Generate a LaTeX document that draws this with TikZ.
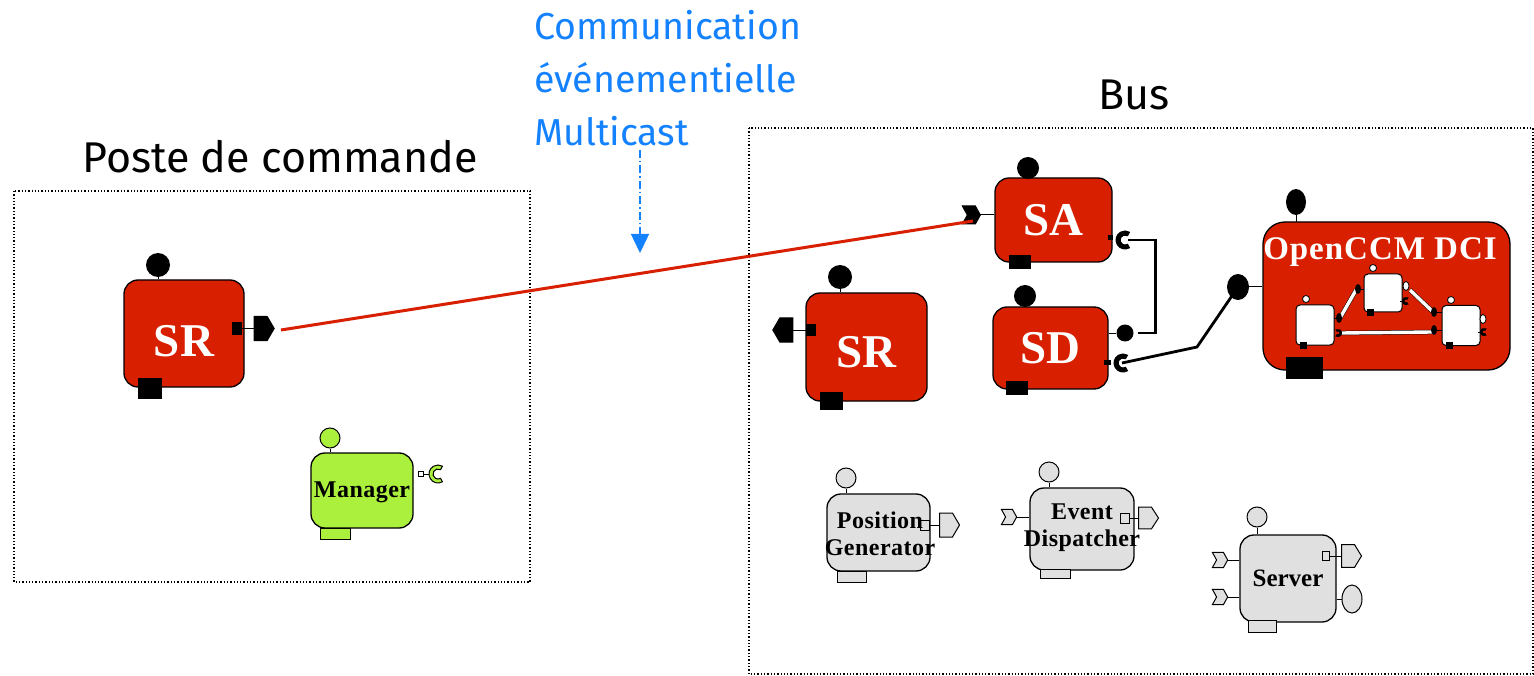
\documentclass[tikz,border=0pt]{standalone}
\usepackage{fontspec}
\setmainfont{Liberation Serif}
\newfontfamily\comicfont{Fira Sans}
\usetikzlibrary{arrows.meta}
\definecolor{cred}{RGB}{216,32,0}
\definecolor{cgray}{RGB}{224,224,224}
\definecolor{cgreen}{RGB}{170,240,60}
\definecolor{cblue}{RGB}{20,130,255}
\tikzset{
  pics/penta/.style={code={\draw[fill=#1, line width=1] (0,-12) -- (13,-12) -- (20,0) -- (13,12) -- (0,12) -- cycle;}},
  pics/chev/.style={code={\draw[fill=#1, line width=1] (0,-9) -- (13,-9) -- (18,0) -- (13,9) -- (0,9) -- (5,0) -- cycle;}},
  pics/cupc/.style={code={\draw[fill=#1, line width=1] (60:9) arc[start angle=60, end angle=300, radius=9] -- (300:5) arc[start angle=300, end angle=60, radius=5] -- cycle;}},
}
\begin{document}
\begin{tikzpicture}[x=1pt,y=-1pt,
  box/.style={draw=black, line width=1.3, rounded corners=14, inner sep=0},
  redbox/.style={box, fill=cred, text=white, font=\bfseries\fontsize{47}{47}\selectfont},
  graybox/.style={box, fill=cgray},
  lbl/.style={font=\bfseries\fontsize{24}{27}\selectfont\addfontfeature{LetterSpace=2}, align=center, inner sep=0},
  dotbox/.style={draw=black, dotted, line width=1.3},
  stem/.style={draw=black, line width=1},
  conn/.style={draw=black, line width=2.8},
  blk/.style={fill=black, inner sep=0},
  ball/.style={circle, fill=black, inner sep=0, minimum size=#1},
  gball/.style={circle, draw=black, line width=1, fill=#1, inner sep=0, minimum size=20},
  sq/.style={draw=black, line width=1, fill=#1, inner sep=0},
  comic/.style={font=\comicfont\fontsize{43}{52}\selectfont, inner sep=0},
  bluecomic/.style={font=\comicfont\fontsize{37.5}{53}\selectfont, inner sep=0, text=cblue},
]
\useasboundingbox (0,0) rectangle (1534,676);

% ---------- frames and titles ----------
\draw[dotbox] (14,191) rectangle (530,582);
\draw[dotbox] (749,128) rectangle (1533,674);
\node[comic] (poste) at (280,157) {Poste de commande};
\node[comic] (bus) at (1134,95) {Bus};
\node[bluecomic, align=left, anchor=north west] (note) at (534,10) {Communication\\événementielle\\Multicast};
\coordinate (arrs) at (640,150);
\coordinate (arre) at (640,253);
\draw[cblue, line width=1.5, dash pattern=on 8pt off 3pt on 1.5pt off 3pt, -{Triangle[width=18pt,length=19pt]}] (arrs) -- (arre);

% ---------- left SR ----------
\node[redbox, minimum width=120, minimum height=107] (srl) at (184,333.5) {\raisebox{-7pt}[\height][0pt]{SR}};
\node[ball=24] (srlt) at (158,265) {};
\draw[stem] (srlt) -- (srlt |- srl.north);
\node[blk, minimum width=24, minimum height=21] (srlb) at (150,388) {};
\node[blk, minimum width=10, minimum height=13] (srlp) at (237,328.5) {};
\draw[stem] (srlp.east) -- ++(12,0) coordinate (srlq);
\pic at (srlq) {penta=black};
\coordinate (evs) at (281,330);

% ---------- Manager ----------
\node[box, fill=cgreen, minimum width=102, minimum height=75] (man) at (362,490.5) {};
\node[lbl] at (362,492) {Manager};
\node[gball=cgreen] (mant) at (330,438) {};
\draw[stem] (mant) -- (mant |- man.north);
\node[sq=cgreen, minimum width=30, minimum height=11] (manb) at (335,533.5) {};
\node[sq=white, minimum size=5] (manp) at (421,474) {};
\draw[stem] (manp.east) -- ++(5,0);
\pic at (438,474) {cupc=cgreen};

% ---------- right SR ----------
\node[redbox, minimum width=121, minimum height=108] (srr) at (866.5,347) {\raisebox{-5pt}[\height][0pt]{SR}};
\node[ball=24] (srrt) at (840,277) {};
\draw[stem] (srrt) -- (srrt |- srr.north);
\node[blk, minimum width=23, minimum height=18] (srrb) at (831.5,401) {};
\node[blk, minimum width=10, minimum height=12] (srrp) at (811,330) {};
\draw[stem] (srrp.west) -- ++(-13,0) coordinate (srrq);
\pic[xscale=-1] at (srrq) {penta=black};

% ---------- SA ----------
\node[redbox, minimum width=117, minimum height=84] (sa) at (1053.5,220) {SA};
\node[ball=22] (sat) at (1028,168) {};
\draw[stem] (sat) -- (sat |- sa.north);
\node[blk, minimum width=22, minimum height=14] (sab) at (1020,262) {};
\draw[stem] (sa.west |- 0,215) -- ++(-14,0) coordinate (sachev);
\pic at ([xshift=-18]sachev) {chev=black};
\coordinate (evt) at (973,221);
\node[sq=black, minimum size=4] (sap) at (1110,238) {};
\coordinate (sacup) at (1125,240);
\pic at (sacup) {cupc=black};

% ---------- SD ----------
\node[redbox, minimum width=115, minimum height=82] (sd) at (1050.5,348) {SD};
\node[ball=22] (sdt) at (1025,296) {};
\draw[stem] (sdt) -- (sdt |- sd.north);
\node[blk, minimum width=22, minimum height=14] (sdb) at (1017,388) {};
\node[ball=17] (sdc) at (1125,333) {};
\draw[stem] (sd.east |- sdc) -- (sdc);
\node[blk, minimum width=7, minimum height=5] (sdp) at (1107,362) {};
\coordinate (sdcup) at (1123,363);
\pic at (sdcup) {cupc=black};

% ---------- OpenCCM DCI ----------
\node[box, fill=cred, rounded corners=22, minimum width=247, minimum height=148] (dci) at (1386.5,296) {};
\node[font=\bfseries\fontsize{33}{33}\selectfont\addfontfeature{LetterSpace=3}, text=white, inner sep=0] at (1380,252) {OpenCCM DCI};
\fill (1296,202) ellipse (10 and 13);
\draw[stem] (1296,210) -- (1296,222);
\node[blk, minimum width=37, minimum height=22] (dcib) at (1304.5,368) {};
\fill (1238,287) ellipse (11 and 13);
\coordinate (dcic) at (1238,287);
\draw[stem] (dcic) -- (dci.west |- dcic);
% inner components
\tikzset{inner/.style={draw=black, line width=1, fill=white, rounded corners=4, inner sep=0, minimum width=38, minimum height=40}}
\node[inner] (ia) at (1315,325) {};
\node[inner, minimum height=38] (ib) at (1383,293) {};
\node[inner, minimum width=38] (ic) at (1461,325.5) {};
\foreach \p in {(1306,299),(1373,268),(1451,300)} \draw[fill=white, line width=0.8] \p circle (3.5);
\foreach \p in {(1303,345),(1370,313),(1449,345)} \fill[black] \p +(-3.5,-3.5) rectangle +(3.5,3.5);
\draw[fill=white, line width=0.8] (1406,286) ellipse (3 and 4.5);
\draw[fill=white, line width=0.8] (1483,319) ellipse (3 and 4.5);
\pic[scale=0.4] at (1406,301) {cupc=black};
\pic[scale=0.4] at (1484,332) {cupc=black};
\draw[line width=0.8] (1400,301) -- (1404,301);
\draw[line width=0.8] (1478,332) -- (1482,332);
% inner connectors
\coordinate (ca1) at (1340,318);
\coordinate (cb1) at (1356,290);
\coordinate (cb2) at (1410,290);
\coordinate (cc1) at (1432,311);
\coordinate (cc2) at (1432,332);
\coordinate (ca2) at (1341,333);
\draw[double=white, double distance=3.4pt, line width=0.5, draw=black] (ca1) -- (cb1);
\draw[double=white, double distance=3.4pt, line width=0.5, draw=black] (cb2) -- (cc1);
\draw[double=white, double distance=3.4pt, line width=0.5, draw=black] (ca2) -- (cc2);
\fill (1339,318) ellipse (3 and 5);
\fill (1358,289) ellipse (3 and 5);
\fill (1434,312) ellipse (3 and 5);
\fill (1434,330) ellipse (3 and 5);
\draw[line width=0.8] (1334,318) -- (1337,318);
\draw[line width=0.8] (1361,289) -- (1364,289);
\draw[line width=0.8] (1437,312) -- (1442,312);
\draw[line width=0.8] (1437,330) -- (1442,330);
\pic[scale=0.4, xscale=-1] at (1338,333) {cupc=black};

% ---------- connectors ----------
\draw[cred, line width=3] (evs) -- (evt);
\draw[conn] ([xshift=4]sdc.east) -- ++(18,0) |- ([xshift=3]sacup);
\coordinate (bend) at (1197,347);
\draw[conn] (dcic) -- (bend) -- ([xshift=-1]sdcup);

% ---------- Position Generator ----------
\node[graybox, minimum width=103, minimum height=77] (pg) at (878.5,532.5) {};
\node[gball=cgray] (pgt) at (846,478) {};
\draw[stem] (pgt) -- (pgt |- pg.north);
\node[sq=cgray, minimum width=29, minimum height=11] (pgb) at (851.5,576.5) {};
\node[sq=cgray, minimum width=9, minimum height=10] (pgp) at (924.5,525) {};
\draw[stem] (pgp.east) -- ++(10,0) coordinate (pgq);
\pic at (pgq) {penta=cgray};
\node[lbl] at (880,534) {Position\\Generator};

% ---------- Event Dispatcher ----------
\node[graybox, minimum width=104, minimum height=82] (ed) at (1082,529) {};
\node[gball=cgray] (edt) at (1049,472) {};
\draw[stem] (edt) -- (edt |- ed.north);
\node[sq=cgray, minimum width=30, minimum height=9] (edb) at (1055,574) {};
\draw[stem] (ed.west |- 0,517) -- ++(-13,0) coordinate (edl);
\pic[scale=0.85] at ([xshift=-15]edl) {chev=cgray};
\node[sq=cgray, minimum width=9, minimum height=10] (edp) at (1124.5,518) {};
\draw[stem] (edp.east) -- ++(9,0) coordinate (edq);
\pic[yscale=0.9] at (edq) {penta=cgray};
\node[lbl] at (1082,528) {Event\\Dispatcher};

% ---------- Server ----------
\node[graybox, minimum width=96, minimum height=87] (srv) at (1288,578.5) {};
\node[gball=cgray] (srvt) at (1257,517) {};
\draw[stem] (srvt) -- (srvt |- srv.north);
\node[sq=cgray, minimum width=28, minimum height=12] (srvb) at (1262,626) {};
\draw[stem] (srv.west |- 0,560) -- ++(-12,0) coordinate (sl1);
\pic[scale=0.85] at ([xshift=-15]sl1) {chev=cgray};
\draw[stem] (srv.west |- 0,597) -- ++(-12,0) coordinate (sl2);
\pic[scale=0.85] at ([xshift=-15]sl2) {chev=cgray};
\node[sq=cgray, minimum width=7, minimum height=9] (srvp) at (1325.5,556) {};
\draw[stem] (srvp.east) -- ++(12,0) coordinate (srvq);
\pic[yscale=0.95] at (srvq) {penta=cgray};
\draw[fill=cgray, line width=1] (1352,599) ellipse (10 and 14);
\draw[stem] (srv.east |- 0,599) -- (1342,599);
\node[lbl, font=\bfseries\fontsize{25}{25}\selectfont] at (1288,578) {Server};
\end{tikzpicture}
\end{document}
